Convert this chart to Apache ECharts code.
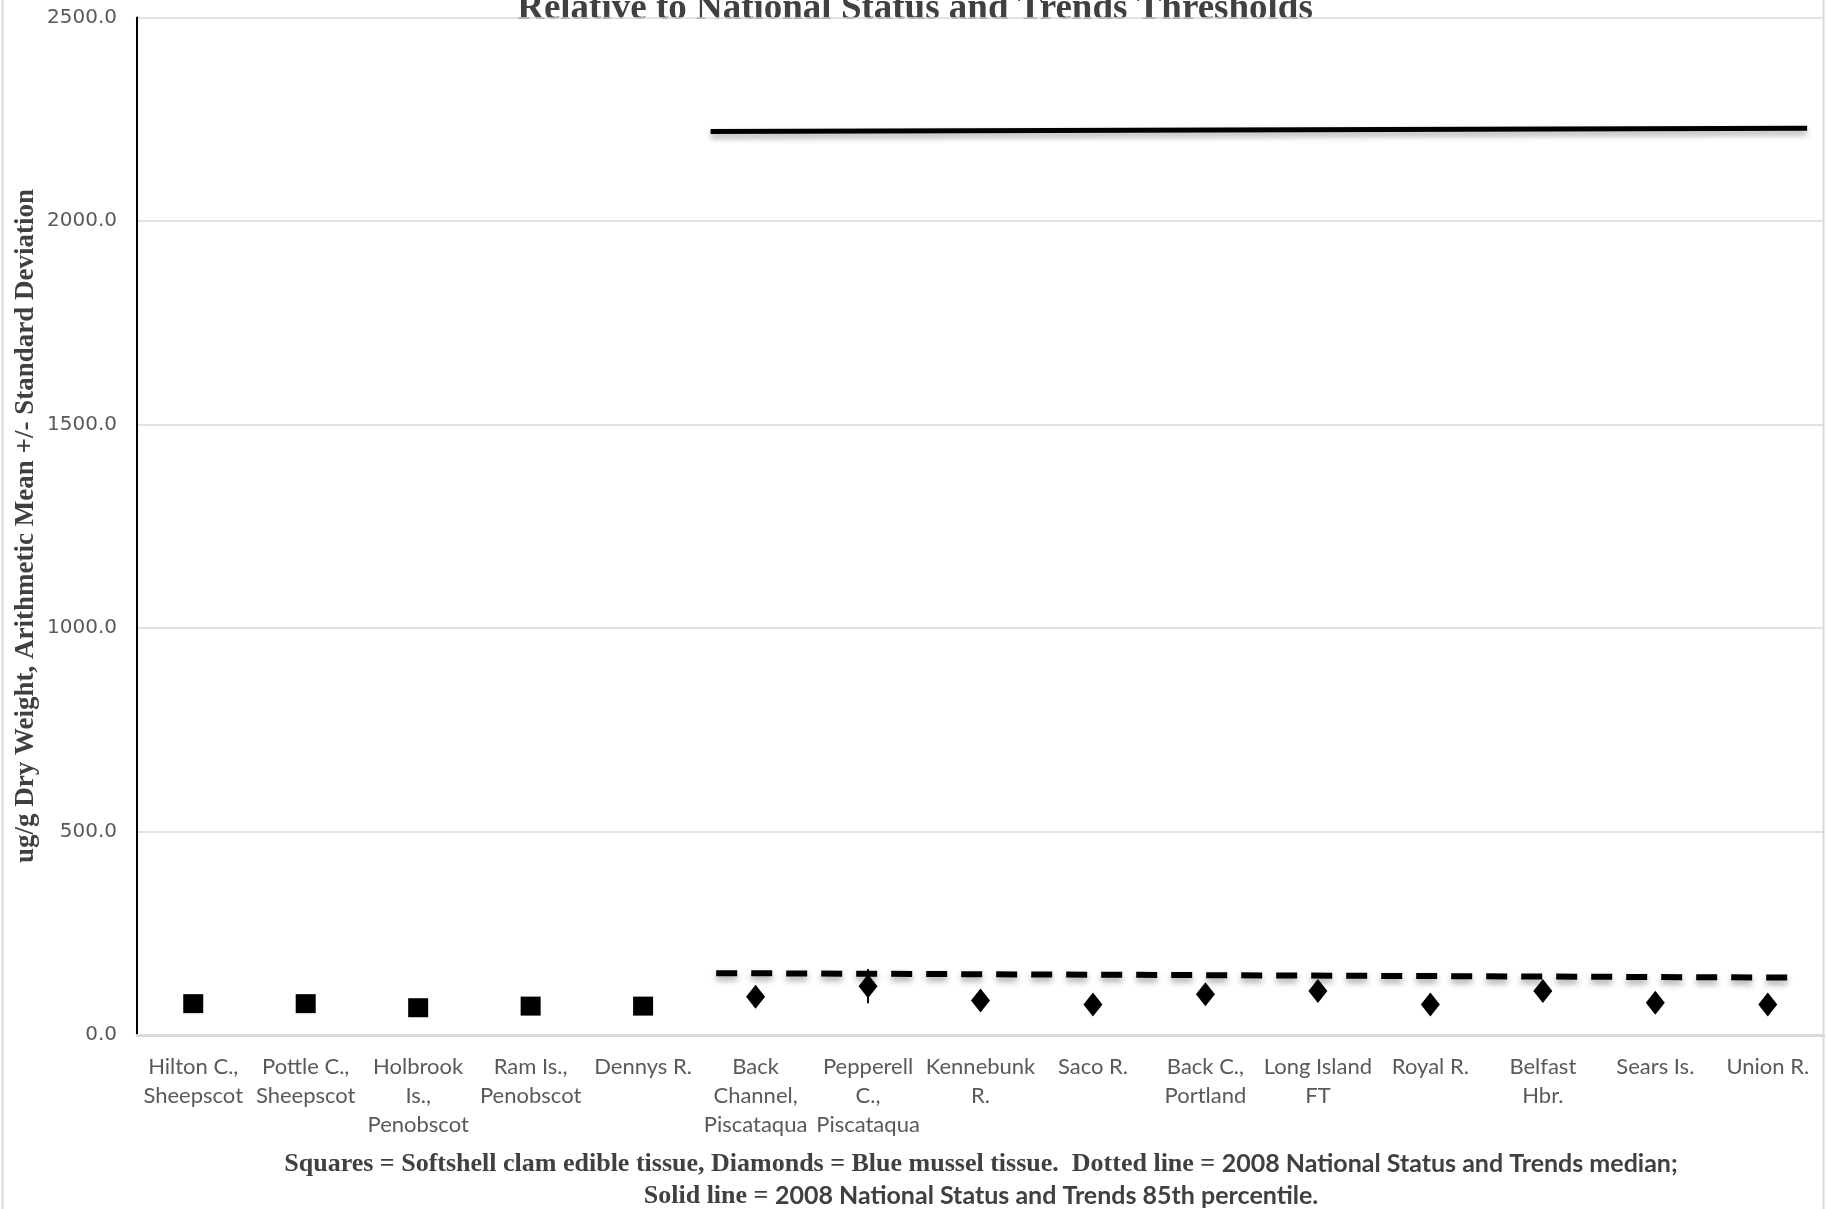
<!DOCTYPE html>
<html>
<head>
<meta charset="utf-8">
<script src="https://cdn.jsdelivr.net/npm/echarts@6/dist/echarts.min.js"></script>
<style>
html,body{margin:0;padding:0;background:#fff;}
#chart{width:1827px;height:1209px;}
</style>
</head>
<body>
<div id="chart"></div>
<script>
// ---- data ----
const categories = [
  'Hilton C.,\nSheepscot', 'Pottle C.,\nSheepscot', 'Holbrook\nIs.,\nPenobscot', 'Ram Is.,\nPenobscot',
  'Dennys R.', 'Back\nChannel,\nPiscataqua', 'Pepperell\nC.,\nPiscataqua', 'Kennebunk\nR.', 'Saco R.',
  'Back C.,\nPortland', 'Long Island\nFT', 'Royal R.', 'Belfast\nHbr.', 'Sears Is.', 'Union R.'
];
const clamMean   = [77, 77, 67, 71, 71, null, null, null, null, null, null, null, null, null, null];
const clamSD     = [6, 5, 6, 5, 6, null, null, null, null, null, null, null, null, null, null];
const musselMean = [null, null, null, null, null, 94, 120, 85, 75, 100, 108, 75, 108, 79, 75];
const musselSD   = [null, null, null, null, null, 8, 42, 6, 5, 7, 8, 5, 8, 5, 5];
// threshold lines (x in category units)
const p85X = [4.6, 14.35];
const p85Values = [2220, 2228];
const medianX = [4.65, 14.28];
const medianValues = [152, 141];
const yTickValues = [0, 500, 1000, 1500, 2000, 2500];

const titleText = 'Relative to National Status and Trends Thresholds';
const yAxisTitle = 'ug/g Dry Weight, Arithmetic Mean +/- Standard Deviation';

// ---- build ----
function pts(arr){ return arr.map(v => v == null ? '-' : v); }
function errData(mean, sd){
  const out = [];
  mean.forEach((m, i) => { if (m != null && sd[i] != null) out.push([i, m - sd[i], m + sd[i]]); });
  return out;
}
const errSeries = errData(clamMean, clamSD).concat(errData(musselMean, musselSD));

const chart = echarts.init(document.getElementById('chart'));
const lineShadow = {shadowColor: 'rgba(0,0,0,0.35)', shadowBlur: 6, shadowOffsetY: 4};
const richStyles = {
  s: {fontFamily: 'Liberation Serif', fontWeight: 'bold', fontSize: 26, fill: '#404040', color: '#404040'},
  c: {fontFamily: 'Lato', fontWeight: 'bold', fontSize: 25, fill: '#404040', color: '#404040'}
};

chart.setOption({
  backgroundColor: '#ffffff',
  animation: false,
  grid: {left: 137, right: 3, top: 17.5, bottom: 174},
  xAxis: [
    {
      type: 'category', data: categories, boundaryGap: true,
      axisLine: {lineStyle: {color: '#d9d9d9', width: 3}},
      axisTick: {show: false},
      axisLabel: {interval: 0, color: '#595959', fontFamily: 'Lato', fontSize: 22, lineHeight: 29, margin: 17}
    },
    {type: 'value', min: -0.5, max: 14.5, show: false}
  ],
  yAxis: {
    type: 'value', min: yTickValues[0], max: yTickValues[yTickValues.length - 1], interval: 500,
    axisLine: {show: true, onZero: false, lineStyle: {color: '#000', width: 2}},
    axisTick: {show: false},
    splitLine: {lineStyle: {color: '#d9d9d9', width: 1.5}},
    axisLabel: {color: '#595959', fontFamily: 'DejaVu Sans', fontSize: 20, margin: 20,
      formatter: v => v.toFixed(1)}
  },
  series: [
    {
      type: 'line', xAxisIndex: 1, data: p85X.map((x, i) => [x, p85Values[i]]),
      symbol: 'none', lineStyle: Object.assign({color: '#000', width: 5}, lineShadow), z: 3
    },
    {
      type: 'line', xAxisIndex: 1, data: medianX.map((x, i) => [x, medianValues[i]]),
      symbol: 'none', lineStyle: Object.assign({color: '#000', width: 6, type: [21, 14]}, lineShadow), z: 3
    },
    {
      type: 'custom', xAxisIndex: 0, data: errSeries, z: 4,
      renderItem: function(params, api){
        const a = api.coord([api.value(0), api.value(1)]);
        const b = api.coord([api.value(0), api.value(2)]);
        return {type: 'line', shape: {x1: a[0], y1: a[1], x2: b[0], y2: b[1]},
          style: {stroke: '#000', lineWidth: 2}};
      }
    },
    {
      type: 'scatter', xAxisIndex: 0, data: pts(clamMean), symbol: 'rect', symbolSize: [20, 19],
      itemStyle: {color: '#000', opacity: 1}, z: 5
    },
    {
      type: 'scatter', xAxisIndex: 0, data: pts(musselMean), symbol: 'diamond', symbolSize: [19, 24],
      itemStyle: {color: '#000', opacity: 1}, z: 5
    }
  ],
  graphic: [
    {type: 'rect', shape: {x: 2.5, y: -10, width: 1821, height: 1230}, silent: true, z: -1,
      style: {fill: 'none', stroke: '#d9d9d9', lineWidth: 2}},
    {type: 'text', x: 915, y: 9, silent: true,
      style: {text: titleText, font: 'bold 37px "Liberation Serif"', fill: '#404040',
        textAlign: 'center', textVerticalAlign: 'middle'}},
    {type: 'text', x: 26, y: 526, rotation: Math.PI / 2, silent: true,
      style: {text: yAxisTitle, font: 'bold 27px "Liberation Serif"', fill: '#404040',
        textAlign: 'center', textVerticalAlign: 'middle'}},
    {type: 'text', x: 981, y: 1164, silent: true,
      style: {
        text: '{s|Squares = Softshell clam edible tissue, Diamonds = Blue mussel tissue.  Dotted line = }{c|2008 National Status and Trends median;}',
        textAlign: 'center', textVerticalAlign: 'middle', rich: richStyles
      }},
    {type: 'text', x: 981, y: 1196, silent: true,
      style: {
        text: '{s|Solid line = }{c|2008 National Status and Trends 85th percentile.}',
        textAlign: 'center', textVerticalAlign: 'middle', rich: richStyles
      }}
  ]
});
</script>
</body>
</html>
